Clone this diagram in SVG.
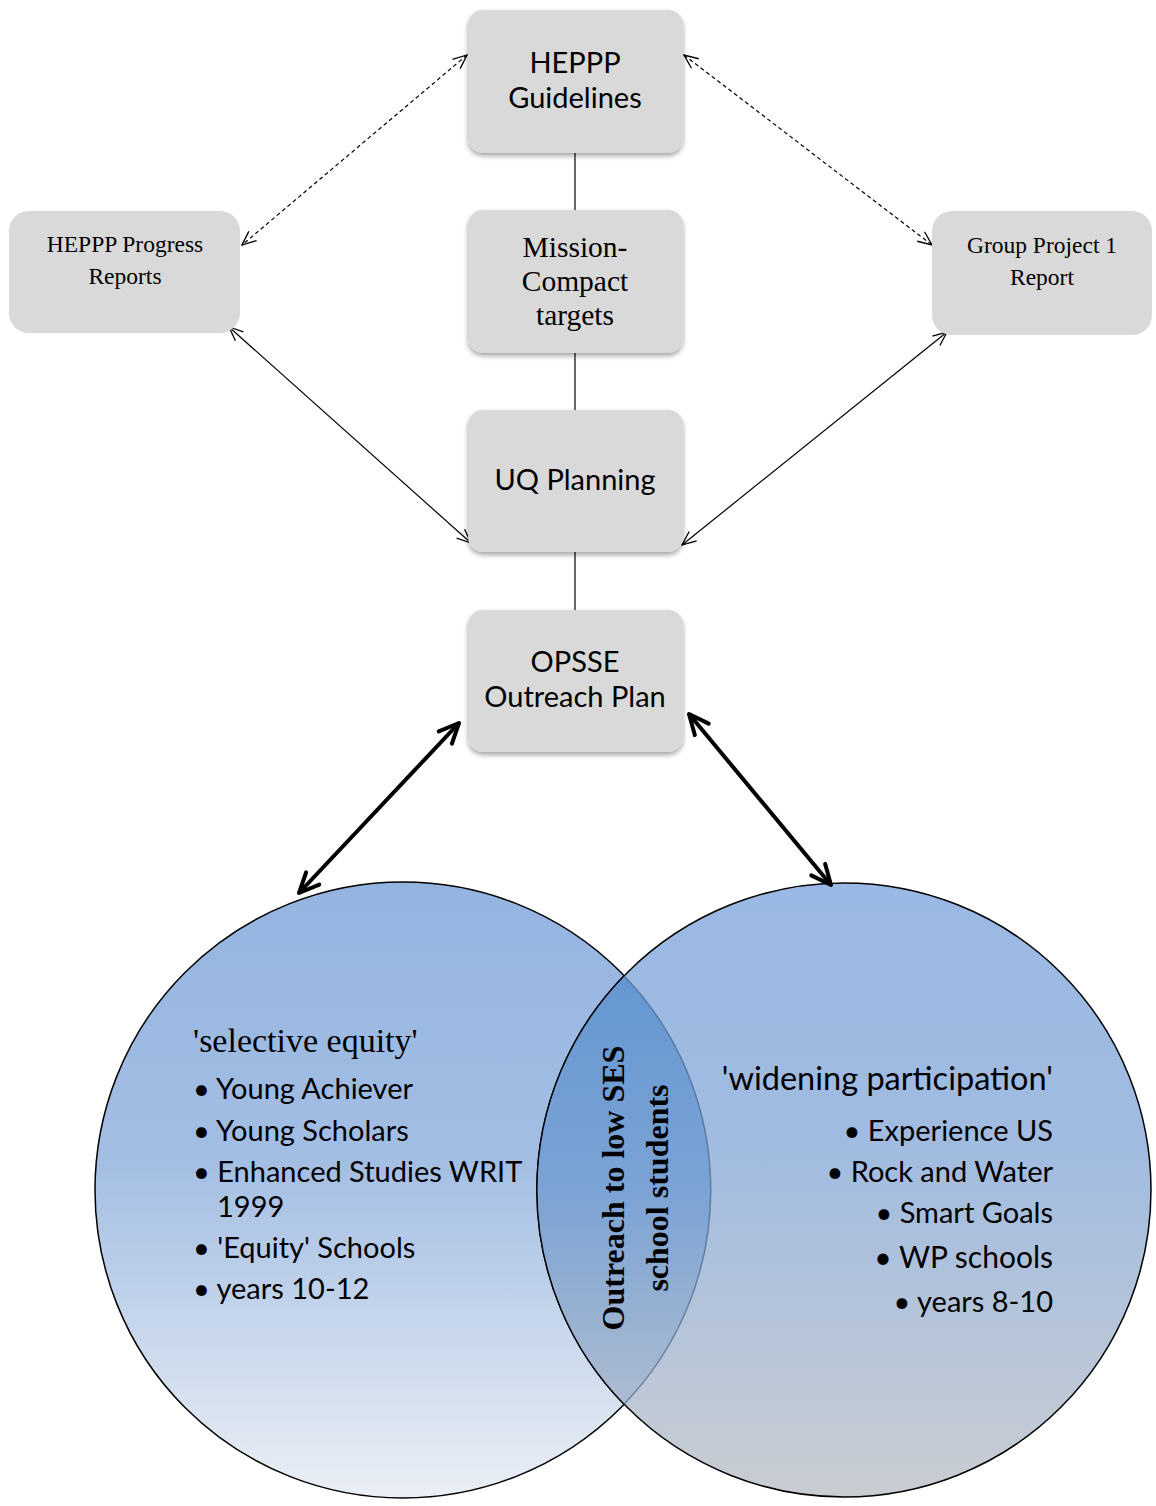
<svg xmlns="http://www.w3.org/2000/svg" width="1156" height="1506" viewBox="0 0 1156 1506">
<style>
.box{fill:#D9D9D9;}
.sans{font-family:Lato,"Open Sans","Liberation Sans",sans-serif;fill:#000;}
.serif{font-family:"Liberation Serif","Times New Roman",serif;fill:#000;}
.thin{stroke:#000;stroke-width:1.2;fill:none;}
.dash{stroke:#000;stroke-width:1.2;fill:none;stroke-dasharray:4 3;}
.thick{stroke:#000;stroke-width:4;fill:none;}
</style>
<defs>
<filter id="sh" x="-10%" y="-10%" width="120%" height="125%">
<feDropShadow dx="0" dy="3" stdDeviation="2.5" flood-color="#000" flood-opacity="0.35"/>
</filter>
<linearGradient id="gL" x1="0" y1="0" x2="0" y2="1">
<stop offset="0" stop-color="#94B4E0"/>
<stop offset="0.45" stop-color="#A3BEE3"/>
<stop offset="1" stop-color="#EBEFF5"/>
</linearGradient>
<linearGradient id="gR" x1="0" y1="0" x2="0" y2="1">
<stop offset="0" stop-color="#99B8E3"/>
<stop offset="0.45" stop-color="#A2BCE0"/>
<stop offset="1" stop-color="#C9CDD2"/>
</linearGradient>
<linearGradient id="gM" x1="0" y1="0" x2="0" y2="1">
<stop offset="0" stop-color="#6597D2"/>
<stop offset="0.5" stop-color="#7BA3D5"/>
<stop offset="1" stop-color="#ACBBD0"/>
</linearGradient>
<marker id="ah" markerUnits="userSpaceOnUse" markerWidth="16" markerHeight="14" viewBox="0 0 16 14" refX="15" refY="7" orient="auto-start-reverse">
<path d="M1,1 L15,7 L1,13" fill="none" stroke="#000" stroke-width="1.3"/>
</marker>
<marker id="ahT" markerUnits="userSpaceOnUse" markerWidth="26" markerHeight="24" viewBox="0 0 26 24" refX="23" refY="12" orient="auto-start-reverse">
<path d="M3,3 L23,12 L3,21" fill="none" stroke="#000" stroke-width="4" stroke-linecap="round" stroke-linejoin="round"/>
</marker>
</defs>

<g id="venn">
<circle id="circle-left" cx="403" cy="1190" r="308" fill="url(#gL)" stroke="#000" stroke-width="1.5"/>
<circle id="circle-right" cx="844" cy="1190" r="307" fill="url(#gR)" stroke="#000" stroke-width="1.5"/>
<path id="lens" d="M624,975.7 A307,307 0 0 0 624,1404.3 A308,308 0 0 0 624,975.7 Z" fill="url(#gM)"/>
<path d="M624,975.7 A307,307 0 0 0 624,1404.3" fill="none" stroke="#000" stroke-width="1.5"/>
<path d="M624,1404.3 A308,308 0 0 0 624,975.7" fill="none" stroke="#3E5A80" stroke-opacity="0.6" stroke-width="1.5"/>
</g>

<g id="connectors">
<line class="thin" x1="575" y1="153" x2="575" y2="210"/>
<line class="thin" x1="575" y1="353" x2="575" y2="410"/>
<line class="thin" x1="575" y1="552" x2="575" y2="610"/>
<line class="dash" x1="467" y1="55" x2="242" y2="245" marker-start="url(#ah)" marker-end="url(#ah)"/>
<line class="dash" x1="684" y1="55" x2="932" y2="245" marker-start="url(#ah)" marker-end="url(#ah)"/>
<line class="thin" x1="229" y1="327" x2="471" y2="543" marker-start="url(#ah)" marker-end="url(#ah)"/>
<line class="thin" x1="947" y1="332" x2="682" y2="545" marker-start="url(#ah)" marker-end="url(#ah)"/>
<line class="thick" x1="459" y1="723" x2="299" y2="893" marker-start="url(#ahT)" marker-end="url(#ahT)"/>
<line class="thick" x1="689" y1="714" x2="831" y2="885" marker-start="url(#ahT)" marker-end="url(#ahT)"/>
</g>

<g id="heppp-guidelines">
<rect class="box" x="468" y="10" width="215" height="143" rx="15" filter="url(#sh)"/>
<text class="sans" font-size="29" text-anchor="middle"><tspan x="575" y="73">HEPPP</tspan><tspan x="575" y="108">Guidelines</tspan></text>
</g>
<g id="mission-compact">
<rect class="box" x="468" y="210" width="215" height="143" rx="15" filter="url(#sh)"/>
<text class="serif" font-size="29.5" text-anchor="middle"><tspan x="575" y="257">Mission-</tspan><tspan x="575" y="291">Compact</tspan><tspan x="575" y="325">targets</tspan></text>
</g>
<g id="uq-planning">
<rect class="box" x="468" y="410" width="215" height="142" rx="15" filter="url(#sh)"/>
<text class="sans" font-size="29" text-anchor="middle" x="575" y="490">UQ Planning</text>
</g>
<g id="opsse">
<rect class="box" x="468" y="610" width="215" height="142" rx="15" filter="url(#sh)"/>
<text class="sans" font-size="29" text-anchor="middle"><tspan x="575" y="672">OPSSE</tspan><tspan x="575" y="707">Outreach Plan</tspan></text>
</g>
<g id="heppp-progress">
<rect class="box" x="9" y="211" width="231" height="122" rx="20"/>
<text class="serif" font-size="23.5" text-anchor="middle"><tspan x="125" y="252">HEPPP Progress</tspan><tspan x="125" y="284">Reports</tspan></text>
</g>
<g id="group-project">
<rect class="box" x="932" y="211" width="220" height="124" rx="20"/>
<text class="serif" font-size="23.5" text-anchor="middle"><tspan x="1042" y="253">Group Project 1</tspan><tspan x="1042" y="285">Report</tspan></text>
</g>

<g id="left-text">
<text class="serif" font-size="34" x="193" y="1052">'selective equity'</text>
<g class="sans" font-size="29">
<text x="193" y="1099">• Young Achiever</text>
<text x="193" y="1141">• Young Scholars</text>
<text x="193" y="1182">• Enhanced Studies WRIT</text>
<text x="217" y="1217">1999</text>
<text x="193" y="1258">• 'Equity' Schools</text>
<text x="193" y="1299">• years 10-12</text>
</g>
</g>
<g id="right-text">
<g class="sans" text-anchor="end">
<text font-size="32.5" x="1053" y="1090">'widening participation'</text>
<text font-size="29" x="1053" y="1141">• Experience US</text>
<text font-size="29" x="1053" y="1182">• Rock and Water</text>
<text font-size="29" x="1053" y="1223">• Smart Goals</text>
<text font-size="30" x="1053" y="1268">• WP schools</text>
<text font-size="29" x="1053" y="1312">• years 8-10</text>
</g>
</g>
<g id="center-text">
<text class="serif" font-size="32" font-weight="bold" text-anchor="middle" transform="translate(624,1188) rotate(-90)"><tspan x="0" y="0">Outreach to low SES</tspan><tspan x="0" y="44">school students</tspan></text>
</g>
</svg>
